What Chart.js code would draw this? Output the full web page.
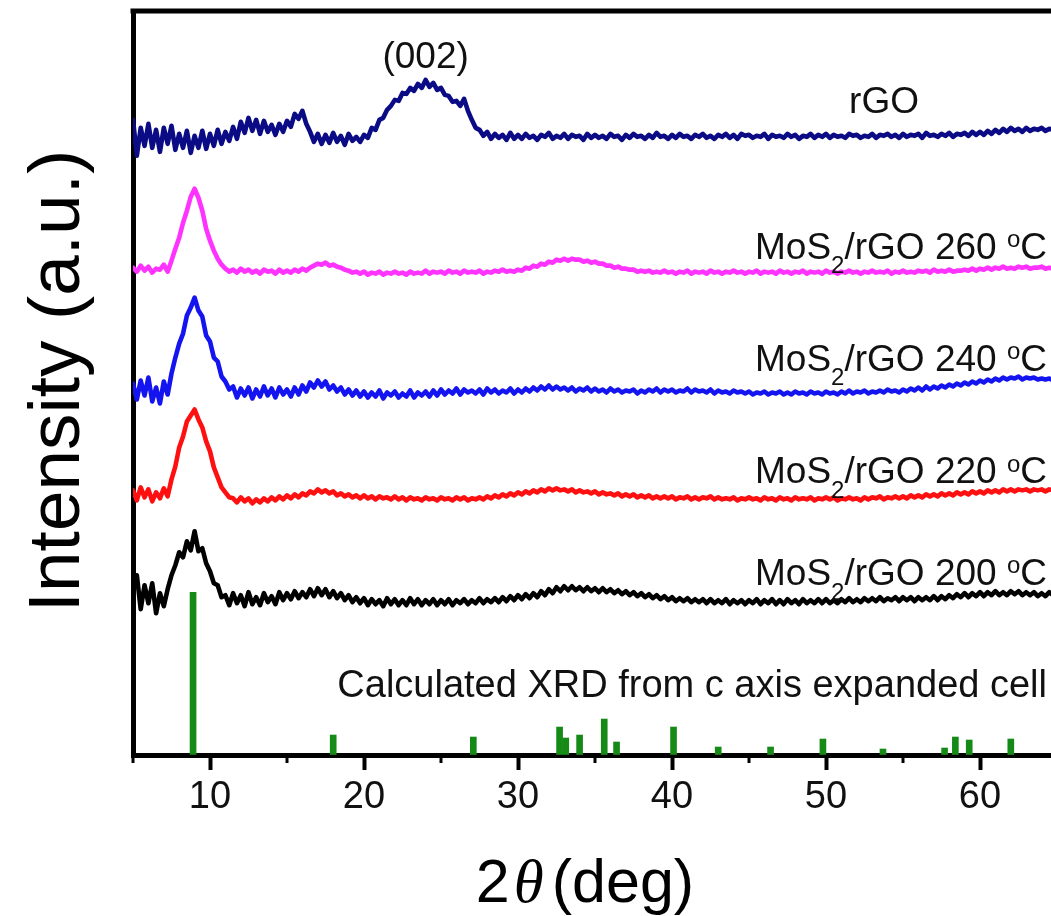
<!DOCTYPE html>
<html>
<head>
<meta charset="utf-8">
<script src="https://cdn.jsdelivr.net/npm/chart.js@4.4.1/dist/chart.umd.min.js"></script>
<style>
html,body{margin:0;padding:0;overflow:hidden;background:#fff}
canvas{display:block}
</style>
</head>
<body>
<canvas id="c" width="1062" height="916"></canvas>
<script>
// ---- scan grid (2θ, deg) ----
const scanStart = 5, scanStep = 0.25, scanPoints = 241;
const twoTheta = Array.from({length: scanPoints}, (_, i) => scanStart + i * scanStep);

// ---- intensities (a.u., offset stacked as in the figure) ----
const rGO = [
636,600,628,610,632,608,626,604,628,612,630,606,622,608,625,603,620,608,625,607,
622,610,626,612,624,615,629,617,634,623,638,625,636,622,635,624,631,621,632,624,
635,629,642,637,645,632,624,614,622,612,621,613,623,614,620,611,622,615,619,614,
621,618,628,626,636,638,646,650,656,655,663,662,668,665,672,668,676,669,673,666,
668,661,660,654,655,650,657,645,636,628,626,620,624,617,622,618,621,616,623,617,
621,617,622,618,620,616,621,619,623,617,620,618,622,617,621,619,620,616,622,618,
621,618,620,617,622,619,620,616,621,618,622,619,620,617,621,618,623,619,620,617,
621,618,622,619,620,617,621,619,622,618,620,617,621,619,622,618,621,617,622,620,
621,618,620,619,622,617,621,619,620,618,622,619,621,617,620,619,622,618,621,619,
622,618,621,619,620,618,622,620,621,618,620,619,622,618,621,620,622,619,621,618,
622,619,621,620,622,618,623,620,621,619,622,620,623,619,622,621,623,620,624,621,
624,621,625,622,626,623,627,624,628,625,627,624,628,625,627,626,628,625,627,626,
627];
const mos2_260 = [
488,484,490,485,489,483,487,486,491,484,495,507,518,533,545,559,567,558,545,527,
515,505,497,491,487,484,486,483,487,484,486,483,485,482,486,484,485,482,486,483,
485,483,486,484,487,485,488,490,492,491,493,490,491,489,488,486,485,483,484,482,
484,481,483,482,484,481,483,482,484,482,483,481,484,482,483,482,485,482,484,483,
484,482,485,483,484,482,485,483,484,483,485,482,484,483,485,484,486,484,485,484,
486,485,488,487,490,489,492,491,494,493,496,495,497,495,497,496,496,494,495,493,
494,492,492,490,490,488,489,487,487,486,486,484,485,484,485,483,484,483,485,483,
484,482,484,483,485,482,484,483,484,482,485,483,484,482,484,483,485,483,484,482,
484,483,485,482,484,483,484,482,485,483,484,482,484,483,485,482,484,483,484,482,
485,483,484,482,484,483,485,483,484,482,484,483,485,483,484,483,485,482,484,483,
485,483,484,483,485,484,485,483,486,484,485,484,486,484,485,485,486,485,487,485,
487,486,488,486,488,487,489,487,488,487,489,488,489,487,488,488,489,487,488,487,
488];
const mos2_240 = [
372,356,375,360,378,354,368,352,374,361,382,398,412,422,440,448,458,445,439,420,
414,398,394,379,374,366,369,358,367,360,368,357,366,359,369,360,367,358,368,361,
366,359,368,361,370,364,373,368,375,369,374,366,370,364,368,361,366,360,365,359,
364,358,363,359,365,357,363,360,364,358,362,359,365,358,363,360,364,359,365,360,
366,361,365,362,367,361,366,363,365,362,366,361,367,363,366,362,365,363,367,362,
366,363,367,364,368,365,369,366,370,366,369,366,368,365,368,364,367,365,368,364,
367,364,366,363,367,364,366,363,365,364,366,362,365,363,366,364,367,363,366,364,
366,363,365,364,367,363,366,364,365,363,366,362,365,363,364,362,365,363,364,362,
364,361,363,362,364,361,363,362,364,361,363,361,364,362,363,361,364,362,363,361,
364,362,363,361,364,362,365,362,364,363,365,362,364,363,365,363,366,364,365,363,
366,364,367,365,368,365,369,366,369,367,370,368,371,369,372,370,373,371,374,372,
375,373,376,374,377,375,378,376,378,377,379,376,378,377,378,376,377,376,377,375,
376];
const mos2_220 = [
265,255,268,258,266,254,263,257,267,259,276,289,308,319,334,340,346,336,328,314,
304,288,278,268,263,258,257,253,258,254,257,252,256,253,257,254,258,255,259,256,
260,257,261,258,262,260,264,262,266,263,265,262,264,260,262,259,261,258,260,257,
260,257,259,256,259,257,258,256,259,256,258,255,258,256,257,255,258,256,257,255,
258,256,257,255,258,256,258,255,257,256,258,256,259,257,260,258,261,259,262,260,
263,261,264,262,265,263,266,264,267,265,267,265,266,264,266,263,265,263,264,262,
264,261,263,261,262,260,262,259,261,259,261,258,260,258,260,257,259,257,259,257,
259,256,258,257,259,256,258,256,258,257,259,256,258,256,257,256,258,255,257,256,
258,256,257,255,258,256,257,255,258,256,257,255,258,256,257,256,258,255,257,256,
258,256,258,255,257,256,258,256,257,255,258,256,258,257,259,256,258,257,259,257,
259,257,260,258,260,258,261,259,261,259,262,260,262,260,263,261,263,261,264,262,
264,262,265,263,265,263,266,264,266,264,266,265,266,264,266,265,266,264,266,265,
265];
const mos2_200 = [
165,180,146,170,152,172,142,162,149,166,180,190,203,198,214,205,224,204,207,192,
184,172,170,158,160,150,162,152,160,149,163,151,158,150,162,153,159,151,163,155,
162,156,164,157,163,158,166,159,167,160,166,158,164,157,162,155,160,153,158,152,
157,150,156,151,155,149,157,151,156,150,155,150,157,151,156,150,155,151,156,150,
155,151,156,150,155,152,156,151,155,152,157,152,156,153,157,153,158,154,159,155,
160,156,161,157,162,158,164,160,166,162,168,164,169,165,169,165,168,164,168,164,
167,163,167,163,166,162,165,161,164,160,163,159,162,158,161,157,160,156,159,155,
158,154,157,154,157,153,156,153,156,152,156,152,155,152,156,151,155,152,155,151,
155,152,156,151,155,152,156,151,155,151,156,152,155,151,156,152,155,152,156,152,
156,152,155,152,156,153,157,153,156,153,157,154,157,154,158,154,157,155,158,154,
158,155,158,154,158,155,158,155,159,155,159,156,160,157,161,158,162,158,162,159,
163,159,163,160,164,160,163,160,164,161,164,160,163,160,163,159,162,159,163,160,
161];

// ---- calculated XRD (c-axis expanded cell) stick pattern ----
const calcPeaks2Theta = [8.9, 18.0, 27.1, 32.7, 33.1, 34.0, 35.6, 36.4, 40.1, 43.0, 46.4, 49.8, 53.7, 57.7, 58.4, 59.3, 62.0];
const calcPeakHeights = [163, 20, 18, 28, 17, 20, 36, 13, 28, 8, 8, 16, 6, 7, 18, 15, 16];

// ---- axis ticks ----
const xTickValues = [10, 20, 30, 40, 50, 60];
const xTickLabels = ['10', '20', '30', '40', '50', '60'];
const xMinorTickValues = [5, 15, 25, 35, 45, 55, 65];

// ---- text ----
const seriesNames = ['rGO', 'MoS_{2}/rGO 260 ^{o}C', 'MoS_{2}/rGO 240 ^{o}C', 'MoS_{2}/rGO 220 ^{o}C', 'MoS_{2}/rGO 200 ^{o}C'];
const calcLabel = 'Calculated XRD from c axis expanded cell';
const peakLabel = '(002)';
const yTitle = 'Intensity (a.u.)';

const FONT = '"Liberation Sans", Arial, Helvetica, sans-serif';
const seriesColors = ['#0b0b86', '#ff33ff', '#1414f0', '#ff1010', '#000000'];
const seriesData = [rGO, mos2_260, mos2_240, mos2_220, mos2_200];

function parseRich(s) {
  const parts = []; const re = /([_^])\{([^}]*)\}|([^_^]+)/g; let m;
  while ((m = re.exec(s))) {
    if (m[3]) parts.push({t: m[3], k: 'n'});
    else parts.push({t: m[2], k: m[1] === '_' ? 'sub' : 'sup'});
  }
  return parts;
}
function drawRich(ctx, s, x, y, align, size) {
  const parts = parseRich(s);
  const small = Math.round(size * 0.66);
  const fontFor = k => (k === 'n' ? size : small) + 'px ' + FONT;
  let w = 0;
  parts.forEach(p => { ctx.font = fontFor(p.k); p.w = ctx.measureText(p.t).width; w += p.w; });
  let cx = align === 'right' ? x - w : align === 'center' ? x - w / 2 : x;
  ctx.textAlign = 'left'; ctx.textBaseline = 'alphabetic';
  parts.forEach(p => {
    ctx.font = fontFor(p.k);
    const dy = p.k === 'sub' ? size * 0.40 : p.k === 'sup' ? -size * 0.32 : 0;
    ctx.fillText(p.t, cx, y + dy);
    cx += p.w;
  });
}

// label anchors in data coordinates (2θ, intensity)
const labelAnchors = [
  {x: 51.5, y: 643, align: 'left'},
  {x: 64.35, y: 497, align: 'right'},
  {x: 64.35, y: 385, align: 'right'},
  {x: 64.35, y: 272, align: 'right'},
  {x: 64.35, y: 170, align: 'right'}
];

const decorPlugin = {
  id: 'decor',
  afterDraw(chart) {
    const ctx = chart.ctx;
    const {left, top, right, bottom} = chart.chartArea;
    const xs = chart.scales.x, ys = chart.scales.y;
    ctx.save();
    // frame (top & right)
    ctx.strokeStyle = '#000'; ctx.lineWidth = 5;
    ctx.beginPath();
    ctx.moveTo(left - 2.5, top); ctx.lineTo(right, top); ctx.lineTo(right, bottom);
    ctx.stroke();
    // minor ticks
    ctx.lineWidth = 3;
    xMinorTickValues.forEach(v => {
      const px = Math.round(xs.getPixelForValue(v));
      ctx.beginPath(); ctx.moveTo(px, bottom); ctx.lineTo(px, bottom + 8); ctx.stroke();
    });
    // labels
    ctx.fillStyle = '#111';
    seriesNames.forEach((n, i) => {
      const a = labelAnchors[i];
      drawRich(ctx, n, xs.getPixelForValue(a.x), ys.getPixelForValue(a.y), a.align, 37);
    });
    drawRich(ctx, calcLabel, xs.getPixelForValue(64.35), ys.getPixelForValue(58), 'right', 38);
    drawRich(ctx, peakLabel, xs.getPixelForValue(24.0), ys.getPixelForValue(688), 'center', 37);
    // x title: 2θ (deg)
    const fs = 61;
    ctx.font = fs + 'px ' + FONT; const w2 = ctx.measureText('2').width;
    ctx.font = 'italic ' + fs + 'px "Liberation Serif", "DejaVu Serif", serif'; const wt = ctx.measureText('θ').width;
    ctx.font = fs + 'px ' + FONT; const wd = ctx.measureText('(deg)').width;
    const gap1 = 4, gap2 = 8;
    const total = w2 + gap1 + wt + gap2 + wd;
    let sx = (left + right) / 2 - 10 - total / 2;
    const by = bottom + 147;
    ctx.textAlign = 'left'; ctx.textBaseline = 'alphabetic'; ctx.fillStyle = '#000';
    ctx.font = fs + 'px ' + FONT; ctx.fillText('2', sx, by); sx += w2 + gap1;
    ctx.font = 'italic ' + fs + 'px "Liberation Serif", "DejaVu Serif", serif'; ctx.fillText('θ', sx, by); sx += wt + gap2;
    ctx.font = fs + 'px ' + FONT; ctx.fillText('(deg)', sx, by);
    // y title
    ctx.translate(79, (top + bottom) / 2 - 2);
    ctx.rotate(-Math.PI / 2);
    ctx.textAlign = 'center';
    ctx.font = '73px ' + FONT;
    ctx.fillText(yTitle, 0, 0);
    ctx.restore();
  }
};

const datasets = seriesData.map((arr, i) => ({
  type: 'line',
  label: seriesNames[i],
  data: twoTheta.map((t, j) => ({x: t, y: arr[j]})),
  borderColor: seriesColors[i],
  borderWidth: 4.6,
  borderJoinStyle: 'round',
  borderCapStyle: 'round',
  pointRadius: 0,
  tension: 0,
  fill: false,
  order: 1
}));
datasets.push({
  type: 'bar',
  label: calcLabel,
  data: calcPeaks2Theta.map((t, j) => ({x: t, y: calcPeakHeights[j]})),
  backgroundColor: '#168a16',
  borderWidth: 0,
  barThickness: 6,
  grouped: false,
  order: 2
});

new Chart(document.getElementById('c'), {
  type: 'line',
  data: {datasets},
  options: {
    responsive: false,
    animation: false,
    devicePixelRatio: 1,
    layout: {padding: {top: 11, right: 5, left: 0, bottom: 0}},
    plugins: {legend: {display: false}, tooltip: {enabled: false}},
    scales: {
      x: {
        type: 'linear', min: 5, max: 65, offset: false,
        afterBuildTicks: s => { s.ticks = xTickValues.map(v => ({value: v})); },
        afterFit: s => { s.height = 161; },
        grid: {drawOnChartArea: false, drawTicks: true, tickLength: 15, tickWidth: 4, tickColor: '#000', offset: false},
        border: {display: true, width: 5, color: '#000'},
        ticks: {
          padding: 5, color: '#111', maxRotation: 0, autoSkip: false,
          font: {family: FONT, size: 38},
          callback: (v, i) => xTickLabels[i]
        }
      },
      y: {
        type: 'linear', min: 0, max: 745,
        afterFit: s => { s.width = 133; },
        grid: {drawOnChartArea: false, drawTicks: false},
        border: {display: true, width: 5, color: '#000'},
        ticks: {display: false}
      }
    }
  },
  plugins: [decorPlugin]
});
</script>
</body>
</html>
